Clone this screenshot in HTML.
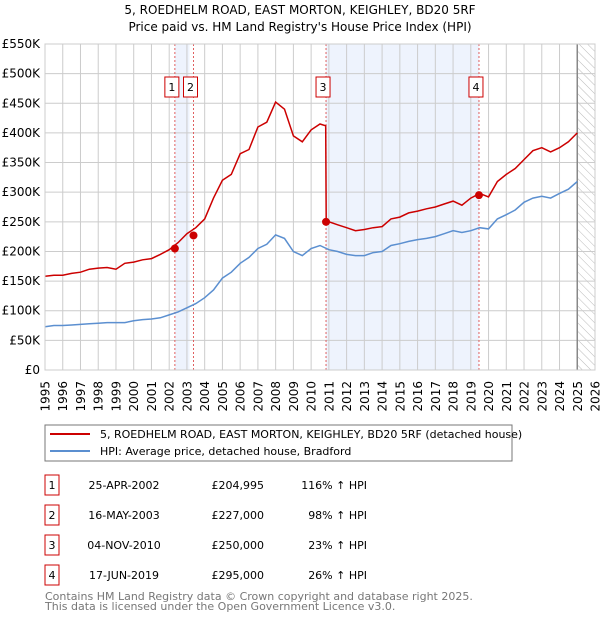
<!DOCTYPE html>
<html><head><meta charset="utf-8"><style>
body{margin:0;background:#fff;font-family:"DejaVu Sans","Liberation Sans",sans-serif}
svg text{font-family:"DejaVu Sans","Liberation Sans",sans-serif}
</style></head><body>
<svg id="c" width="600" height="620" xmlns="http://www.w3.org/2000/svg">
<defs><pattern id="hatch" width="6" height="6" patternUnits="userSpaceOnUse" patternTransform="rotate(-45)"><line x1="0" y1="0" x2="0" y2="6" stroke="#bbb" stroke-width="1"/></pattern></defs>
<text x="300" y="14" text-anchor="middle" font-size="12">5, ROEDHELM ROAD, EAST MORTON, KEIGHLEY, BD20 5RF</text>
<text x="300" y="31" text-anchor="middle" font-size="12">Price paid vs. HM Land Registry's House Price Index (HPI)</text>
<g id="plot"></g>
<rect x="45" y="425" width="467" height="36" fill="none" stroke="#777"/>
<line x1="50" y1="434" x2="90" y2="434" stroke="#cc0000" stroke-width="2"/>
<text x="100" y="438" font-size="11">5, ROEDHELM ROAD, EAST MORTON, KEIGHLEY, BD20 5RF (detached house)</text>
<line x1="50" y1="451" x2="90" y2="451" stroke="#5b8fd0" stroke-width="2"/>
<text x="100" y="455" font-size="11">HPI: Average price, detached house, Bradford</text>
<g id="tbl" font-size="11"></g>
<text x="45" y="600" font-size="11" fill="#777">Contains HM Land Registry data © Crown copyright and database right 2025.</text>
<text x="45" y="610" font-size="11" fill="#777">This data is licensed under the Open Government Licence v3.0.</text>
</svg>
<script>
const hpiYears=[1995,1995.5,1996,1996.5,1997,1997.5,1998,1998.5,1999,1999.5,2000,2000.5,2001,2001.5,2002,2002.5,2003,2003.5,2004,2004.5,2005,2005.5,2006,2006.5,2007,2007.5,2008,2008.5,2009,2009.5,2010,2010.5,2011,2011.5,2012,2012.5,2013,2013.5,2014,2014.5,2015,2015.5,2016,2016.5,2017,2017.5,2018,2018.5,2019,2019.5,2020,2020.5,2021,2021.5,2022,2022.5,2023,2023.5,2024,2024.5,2025];
const hpiValues=[73,75,75,76,77,78,79,80,80,80,83,85,86,88,93,98,105,112,122,135,155,165,180,190,205,212,228,222,200,193,205,210,203,200,195,193,193,198,200,210,213,217,220,222,225,230,235,232,235,240,238,255,262,270,283,290,293,290,298,305,318];
const redYears=[1995,1995.5,1996,1996.5,1997,1997.5,1998,1998.5,1999,1999.5,2000,2000.5,2001,2001.5,2002,2002.5,2003,2003.5,2004,2004.5,2005,2005.5,2006,2006.5,2007,2007.5,2008,2008.5,2009,2009.5,2010,2010.5,2010.82,2010.85,2011,2011.5,2012,2012.5,2013,2013.5,2014,2014.5,2015,2015.5,2016,2016.5,2017,2017.5,2018,2018.5,2019,2019.5,2020,2020.5,2021,2021.5,2022,2022.5,2023,2023.5,2024,2024.5,2025];
const redValues=[158,160,160,163,165,170,172,173,170,180,182,186,188,195,203,215,230,240,255,290,320,330,365,372,410,418,452,440,395,385,405,415,412,250,250,245,240,235,237,240,242,255,258,265,268,272,275,280,285,278,290,298,292,318,330,340,355,370,375,368,375,385,400];
const saleLabels=["1","2","3","4"];
const saleYears=[2002.32,2003.37,2010.84,2019.46];
const salePrices=[204995,227000,250000,295000];
const saleDates=["25-APR-2002","16-MAY-2003","04-NOV-2010","17-JUN-2019"];
const salePriceText=["£204,995","£227,000","£250,000","£295,000"];
const saleHpiText=["116% ↑ HPI","98% ↑ HPI","23% ↑ HPI","26% ↑ HPI"];
const yTicks=[0,50,100,150,200,250,300,350,400,450,500,550];
const xTicks=[1995,1996,1997,1998,1999,2000,2001,2002,2003,2004,2005,2006,2007,2008,2009,2010,2011,2012,2013,2014,2015,2016,2017,2018,2019,2020,2021,2022,2023,2024,2025,2026];

const NS="http://www.w3.org/2000/svg";
const X=y=>45+(y-1995)*550/31;
const Y=v=>370-v*326/550;
const g=document.getElementById('plot');
function mk(t,a,p){const e=document.createElementNS(NS,t);for(const k in a)e.setAttribute(k,a[k]);(p||g).appendChild(e);return e;}
let r=mk('rect',{x:X(saleYears[0]),y:44,width:X(saleYears[1])-X(saleYears[0])-4,height:326,fill:'#eef3fd'});


r=mk('rect',{x:X(saleYears[2]),y:44,width:X(saleYears[3])-X(saleYears[2]),height:326,fill:'#eef3fd'});


r=mk('rect',{x:X(2025),y:44,width:X(2026)-X(2025),height:326,fill:'url(#hatch)'});


yTicks.forEach(v=>{
 const l=mk('line',{x1:45,x2:595,y1:Y(v),y2:Y(v),stroke:'#ccc'});
 
 
 const t=mk('text',{x:40,y:Y(v)+4,'text-anchor':'end','font-size':12});
 t.textContent=v===0?'£0':'£'+v+'K';
 
 
});
xTicks.forEach((y,i)=>{
 const l=mk('line',{x1:X(y),x2:X(y),y1:44,y2:370,stroke:'#ccc'});
 
 
 const tx=X(y)+4.5, ty=381;
 const t=mk('text',{x:tx,y:ty,'text-anchor':'end','font-size':12,transform:'rotate(-90 '+tx+' '+ty+')'});
 t.textContent=y;
 
 
});
let b=mk('line',{x1:X(2025),x2:X(2025),y1:44,y2:370,stroke:'#888','stroke-width':1.5});


saleYears.forEach((y,i)=>{
 const l=mk('line',{x1:X(y),x2:X(y),y1:44,y2:370,stroke:'#e06060','stroke-dasharray':'2,2'});
 
 
 const bx=mk('rect',{x:X(y)-10,y:77,width:14,height:20,fill:'#fff',stroke:'#cc0000'});
 
 
 const t=mk('text',{x:X(y)-3,y:91,'text-anchor':'middle','font-size':11});
 t.textContent=saleLabels[i];
 
 
});
const path=(xs,vs)=>xs.map((x,i)=>(i?'L':'M')+X(x).toFixed(1)+','+Y(vs[i]).toFixed(1)).join('');
let p=mk('path',{d:path(hpiYears,hpiValues),fill:'none',stroke:'#5b8fd0','stroke-width':1.5});


p=mk('path',{d:path(redYears,redValues),fill:'none',stroke:'#cc0000','stroke-width':1.5});


saleYears.forEach((y,i)=>{
 const c=mk('circle',{cx:X(y),cy:Y(salePrices[i]/1000),r:4,fill:'#cc0000'});
 
 
});
let ax=mk('rect',{x:45,y:44,width:550,height:326,fill:'none',stroke:'#ccc'});


const tb=document.getElementById('tbl');
saleLabels.forEach((s,i)=>{
 const y=475+i*30;
 const bx=mk('rect',{x:45,y:y,width:14,height:20,fill:'#fff',stroke:'#cc0000'},tb);
 
 
 const vals=[[52,s,'middle'],[124,saleDates[i],'middle'],[264,salePriceText[i],'end'],[367,saleHpiText[i],'end']];
 vals.forEach(v=>{
  const t=mk('text',{x:v[0],y:y+14,'text-anchor':v[2]},tb);
  t.textContent=v[1];
  
  
 });
});
</script>
</body></html>
